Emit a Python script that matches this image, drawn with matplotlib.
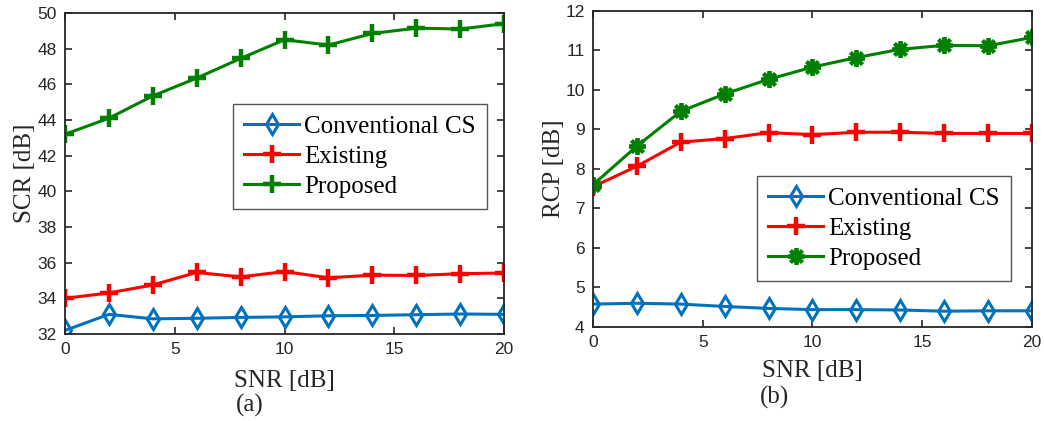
import matplotlib.pyplot as plt
import numpy as np

snr = [0, 2, 4, 6, 8, 10, 12, 14, 16, 18, 20]

# (a) SCR
scr_conv = [32.2, 33.1, 32.85, 32.88, 32.93, 32.96, 33.02, 33.04, 33.08, 33.12, 33.1]
scr_exist = [34.0, 34.3, 34.75, 35.45, 35.2, 35.5, 35.15, 35.3, 35.28, 35.38, 35.42]
scr_prop = [43.2, 44.1, 45.35, 46.35, 47.45, 48.5, 48.2, 48.85, 49.15, 49.1, 49.4]

# (b) RCP
rcp_conv = [4.58, 4.6, 4.58, 4.52, 4.47, 4.44, 4.44, 4.43, 4.4, 4.41, 4.41]
rcp_exist = [7.55, 8.07, 8.68, 8.77, 8.92, 8.87, 8.93, 8.93, 8.9, 8.9, 8.9]
rcp_prop = [7.6, 8.58, 9.46, 9.9, 10.27, 10.58, 10.82, 11.03, 11.13, 11.12, 11.33]

labels = ['Conventional CS', 'Existing', 'Proposed']
blue, red, green = '#0072BD', '#FF0000', '#008000'
dark = '#262626'
serif = 'Liberation Serif'
sans = 'Liberation Sans'

fig = plt.figure(figsize=(10.44, 4.21), dpi=100)
ax1 = fig.add_axes([0.0623, 0.2067, 0.4205, 0.7625])
ax2 = fig.add_axes([0.568, 0.2233, 0.4205, 0.7506])


def style(ax, yticks, ylabel, xpad, ypad):
    ax.set_xlim(0, 20)
    ax.set_xticks([0, 5, 10, 15, 20])
    ax.set_ylim(yticks[0], yticks[-1])
    ax.set_yticks(yticks)
    ax.tick_params(direction='in', top=True, right=True, length=5, width=1.2,
                   colors=dark, labelsize=12.5, pad=6)
    for lab in ax.get_xticklabels() + ax.get_yticklabels():
        lab.set_family(sans)
    for s in ax.spines.values():
        s.set_color(dark)
        s.set_linewidth(1.3)
    ax.set_xlabel('SNR [dB]', family=serif, fontsize=18, color=dark, labelpad=xpad)
    ax.set_ylabel(ylabel, family=serif, fontsize=18, color=dark, labelpad=ypad)


lw = 2.2
ax1.plot(snr, scr_conv, color=blue, marker='d', ms=10, mfc='none', mew=2.2, lw=lw, label=labels[0])
ax1.plot(snr, scr_exist, color=red, marker='+', ms=13, mew=3.2, lw=lw, label=labels[1])
ax1.plot(snr, scr_prop, color=green, marker='+', ms=13, mew=3.2, lw=lw, label=labels[2])
style(ax1, list(range(32, 51, 2)), 'SCR [dB]', 9, 1)

ax2.plot(snr, rcp_conv, color=blue, marker='d', ms=10, mfc='none', mew=2.2, lw=lw, label=labels[0])
ax2.plot(snr, rcp_exist, color=red, marker='+', ms=13, mew=3.2, lw=lw, label=labels[1])
ax2.plot(snr, rcp_prop, color=green, marker=(8, 2, 0), ms=12, mew=2.8, lw=lw, label=labels[2])
style(ax2, list(range(4, 13)), 'RCP [dB]', 7, 0)

for ax, anchor in [(ax1, (0.383, 0.717)), (ax2, (0.3736, 0.478))]:
    leg = ax.legend(loc='upper left', bbox_to_anchor=anchor, prop={'family': serif, 'size': 18},
                    fancybox=False, framealpha=1, edgecolor='#555555', borderpad=0.45,
                    handlelength=2.2, handletextpad=0.2, labelspacing=0.3, borderaxespad=0)
    leg.get_frame().set_linewidth(1.0)

fig.text(0.2395, 0.038, '(a)', family=serif, fontsize=18, ha='center', va='center', color=dark)
fig.text(0.742, 0.057, '(b)', family=serif, fontsize=18, ha='center', va='center', color=dark)

fig.savefig('out.png', dpi=100)
